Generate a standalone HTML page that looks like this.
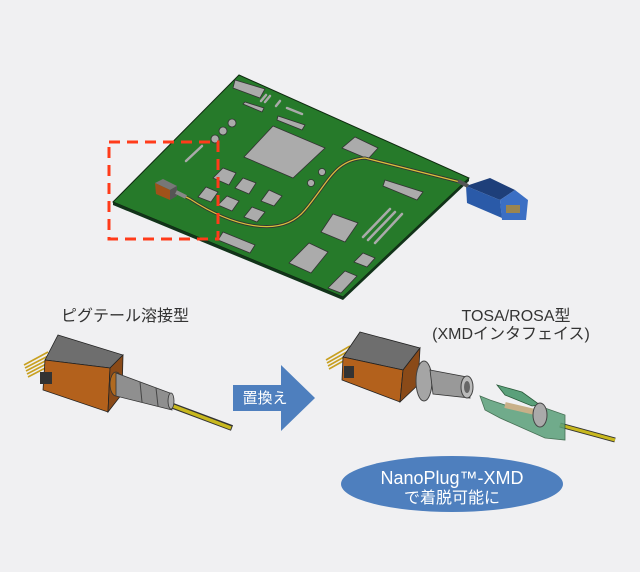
<!DOCTYPE html>
<html><head><meta charset="utf-8"><style>
html,body{margin:0;padding:0;background:#f0f0f2;}
svg{display:block}
text{font-family:"Liberation Sans","Noto Sans CJK JP",sans-serif;}
</style></head><body>
<svg width="640" height="572" viewBox="0 0 640 572" xmlns="http://www.w3.org/2000/svg">
<rect width="640" height="572" fill="#f0f0f2"/>
<polygon points="239,75 469,178 343,297 113,202" fill="#267a2a" stroke="#0f2a10" stroke-width="1"/>
<polygon points="113,202 343,297 343,300 113,205" fill="#12331a"/>
<polygon points="343,297 469,178 469,181 343,300" fill="#12331a"/>
<g fill="#ababab" stroke="#333" stroke-width="0.8">
<polygon points="235,80 265,89 260,98 233,88"/>
<polygon points="245,102 264,108 262,112 243,104"/>
<polygon points="278,116 305,125 302,130 277,120"/>
<polygon points="273,126 325,148 293,178 244,157"/>
<polygon points="355,137 378,148 368,159 342,148"/>
<polygon points="385,180 423,192 417,200 383,186"/>
<polygon points="333,214 358,223 345,242 321,232"/>
<polygon points="223,232 255,245 250,253 218,240"/>
<polygon points="309,243 328,252 311,273 289,263"/>
<polygon points="363,253 375,258 367,267 354,262"/>
<polygon points="345,271 357,276 341,293 328,288"/>
<polygon points="223,168 236,173 229,185 213,178"/>
<polygon points="243,178 256,183 249,194 235,188"/>
<polygon points="206,187 218,192 211,202 198,197"/>
<polygon points="227,196 239,201 232,211 218,205"/>
<polygon points="269,190 282,196 274,206 261,201"/>
<polygon points="252,207 265,212 257,222 244,217"/>
<circle cx="232" cy="123" r="4"/><circle cx="223" cy="131" r="4"/><circle cx="215" cy="139" r="4"/>
<circle cx="322" cy="172" r="3.5"/><circle cx="311" cy="183" r="3.5"/>
</g>
<g stroke="#aaa" stroke-width="2.5" stroke-linecap="round">
<line x1="202" y1="146" x2="186" y2="161"/>
<line x1="390" y1="209" x2="363" y2="237"/>
<line x1="395" y1="212" x2="368" y2="240"/>
<line x1="402" y1="214" x2="375" y2="243"/>
<line x1="266" y1="95" x2="261" y2="101"/>
<line x1="270" y1="96" x2="265" y2="102"/>
<line x1="280" y1="101" x2="276" y2="106"/>
<line x1="287" y1="108" x2="302" y2="114"/>
</g>
<path d="M178,193 L190,199 C230,225 280,240 305,210 S335,160 365,158 L460,182" fill="none" stroke="#333" stroke-width="3"/>
<path d="M178,193 L190,199 C230,225 280,240 305,210 S335,160 365,158 L460,182" fill="none" stroke="#d9c13a" stroke-width="1.3"/>
<polygon points="155,183 163,179 177,186 170,190" fill="#777"/>
<polygon points="155,183 170,190 170,200 156,194" fill="#a0521a"/>
<polygon points="170,190 177,186 177,196 170,200" fill="#555"/>
<line x1="176" y1="192" x2="186" y2="197" stroke="#888" stroke-width="4"/>
<polygon points="466,186 490,178 515,190 500,200" fill="#1e3f7a"/>
<polygon points="466,186 500,200 502,218 467,203" fill="#2a5aa8"/>
<polygon points="500,200 515,190 528,200 526,220 502,220" fill="#3b6fc4"/>
<rect x="506" y="205" width="14" height="8" fill="#9a8550"/>
<line x1="458" y1="181" x2="468" y2="186" stroke="#555" stroke-width="4"/>
<rect x="109" y="142" width="109" height="97" fill="none" stroke="#ff3b1a" stroke-width="3" stroke-dasharray="11,7"/>

<text x="125" y="321" font-size="16" fill="#333" text-anchor="middle">ピグテール溶接型</text>
<g stroke="#c8a020" stroke-width="1.6">
<line x1="24" y1="365" x2="48" y2="352"/><line x1="25" y1="368" x2="50" y2="355"/>
<line x1="26" y1="371" x2="51" y2="358"/><line x1="27" y1="374" x2="52" y2="361"/>
<line x1="28" y1="377" x2="53" y2="364"/>
</g>
<line x1="165" y1="403" x2="232" y2="428" stroke="#333" stroke-width="6"/>
<line x1="165" y1="403" x2="231" y2="428" stroke="#c8b81e" stroke-width="3.5"/>
<polygon points="58,335 123,355 110,368 45,360" fill="#6e6e6e" stroke="#222" stroke-width="0.8"/>
<polygon points="45,360 110,368 108,412 43,390" fill="#b3611c" stroke="#222" stroke-width="0.8"/>
<polygon points="110,368 123,355 122,394 108,412" fill="#8a4a18" stroke="#222" stroke-width="0.8"/>
<rect x="40" y="372" width="12" height="12" fill="#333"/>
<ellipse cx="116" cy="384" rx="6" ry="12" fill="#b06a20" stroke="#333" stroke-width="0.8"/>
<path d="M116,373 L170,393 L172,410 L116,396 Z" fill="#8f8f8f" stroke="#333" stroke-width="0.8"/>
<ellipse cx="171" cy="401" rx="3" ry="8" fill="#aaa" stroke="#333" stroke-width="0.8"/>
<line x1="140" y1="382" x2="142" y2="402" stroke="#444"/><line x1="156" y1="388" x2="158" y2="406" stroke="#444"/>
<polygon points="233,385 281,385 281,365 315,398 281,431 281,411 233,411" fill="#4e7fbe"/>
<text x="265" y="403" font-size="15" fill="#fff" text-anchor="middle">置換え</text>

<text x="516" y="321" font-size="16" fill="#333" text-anchor="middle">TOSA/ROSA型</text>
<text x="511" y="339" font-size="16" fill="#333" text-anchor="middle">(XMDインタフェイス)</text>
<g stroke="#c8a020" stroke-width="1.6">
<line x1="326" y1="360" x2="350" y2="346"/><line x1="327" y1="363" x2="352" y2="349"/>
<line x1="328" y1="366" x2="353" y2="352"/><line x1="329" y1="369" x2="354" y2="355"/>
</g>
<polygon points="360,332 420,348 403,370 343,357" fill="#6e6e6e" stroke="#222" stroke-width="0.8"/>
<polygon points="343,357 403,370 400,402 342,380" fill="#b3611c" stroke="#222" stroke-width="0.8"/>
<polygon points="403,370 420,348 418,385 400,402" fill="#8a4a18" stroke="#222" stroke-width="0.8"/>
<rect x="344" y="366" width="10" height="12" fill="#333"/>
<ellipse cx="424" cy="381" rx="8" ry="20" fill="#a5a5a5" stroke="#444"/>
<path d="M430,370 L467,377 L470,398 L433,394 Z" fill="#999" stroke="#333" stroke-width="0.8"/>
<ellipse cx="467" cy="387" rx="6" ry="11" fill="#bbb" stroke="#444"/>
<ellipse cx="467" cy="387" rx="3" ry="6" fill="#666"/>
<line x1="560" y1="425" x2="615" y2="440" stroke="#333" stroke-width="5"/>
<line x1="560" y1="425" x2="615" y2="440" stroke="#c8b81e" stroke-width="3"/>
<path d="M480,396 L485,410 L500,418 L545,438 L565,440 L565,415 L545,408 L520,410 L490,400 Z" fill="#5aa07a" opacity="0.85" stroke="#2a5a3a" stroke-width="0.8"/>
<path d="M497,385 L522,392 L540,405 L532,406 L505,395 Z" fill="#5aa07a" stroke="#2a5a3a" stroke-width="0.8"/>
<line x1="505" y1="405" x2="535" y2="412" stroke="#c8b088" stroke-width="6"/>
<ellipse cx="540" cy="415" rx="7" ry="12" fill="#aaa" stroke="#444"/>
<ellipse cx="452" cy="484" rx="111" ry="28" fill="#4e7fbe"/>
<text x="452" y="484" font-size="18" fill="#fff" text-anchor="middle">NanoPlug™-XMD</text>
<text x="452" y="503" font-size="16" fill="#fff" text-anchor="middle">で着脱可能に</text>
</svg>
</body></html>
